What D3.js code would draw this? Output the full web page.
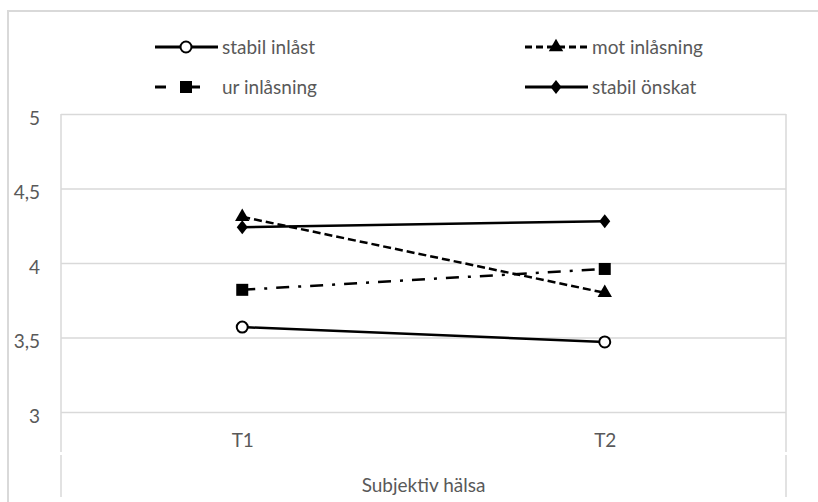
<!DOCTYPE html>
<html>
<head>
<meta charset="utf-8">
<script src="https://cdn.jsdelivr.net/npm/d3@7"></script>
<style>
  body { margin: 0; background: #fff; }
  text { font-family: Lato, "Open Sans", sans-serif; fill: #595959; }
</style>
</head>
<body>
<svg id="chart" width="818" height="502"></svg>
<script>
const categories = ["T1", "T2"]
const yTicks = [3, 3.5, 4, 4.5, 5]
const stabilInlast = [3.57, 3.47]
const motInlasning = [4.31, 3.80]
const urInlasning = [3.82, 3.96]
const stabilOnskat = [4.24, 4.28]
const xTitle = "Subjektiv hälsa"

const series = [
    {name: "stabil inlåst", values: stabilInlast, dash: null, marker: "circle"},
    {name: "mot inlåsning", values: motInlasning, dash: "8,4", marker: "triangle"},
    {name: "ur inlåsning", values: urInlasning, dash: "13,9,3,9", marker: "square"},
    {name: "stabil önskat", values: stabilOnskat, dash: null, marker: "diamond"}
]

const svg = d3.select("#chart")
const plotLeft = 61, plotRight = 786, plotTop = 114, plotBottom = 412
const fontSize = 19

const x = d3.scalePoint().domain(categories).range([plotLeft, plotRight]).padding(0.5)
const y = d3.scaleLinear().domain([3, 5]).range([plotBottom, plotTop])

const sv = d3.formatLocale({decimal: ",", thousands: " ", grouping: [3], currency: ["", " kr"]})
const fmt = sv.format("~g")

// outer frame
svg.append("path")
    .attr("d", "M8,502 L8,11 L818,11")
    .attr("fill", "none")
    .attr("stroke", "#d9d9d9")
    .attr("stroke-width", 2)

// plot frame sides
;[plotLeft, plotRight].forEach(xx => {
    svg.append("line").attr("x1", xx).attr("x2", xx).attr("y1", plotTop).attr("y2", 452)
        .attr("stroke", "#d9d9d9").attr("stroke-width", 1.5)
    svg.append("line").attr("x1", xx).attr("x2", xx).attr("y1", 455).attr("y2", 497)
        .attr("stroke", "#d9d9d9").attr("stroke-width", 1.5)
})

// y axis with gridlines
const yAxis = svg.append("g")
    .attr("transform", "translate(" + plotLeft + ",0)")
    .call(d3.axisLeft(y).tickValues(yTicks).tickFormat(fmt).tickSize(-(plotRight - plotLeft)).tickPadding(21))
yAxis.select(".domain").remove()
yAxis.selectAll(".tick line").attr("stroke", "#d9d9d9").attr("stroke-width", 1.5)
yAxis.selectAll(".tick text")
    .attr("font-size", fontSize)
    .attr("dy", "0.55em")
    .style("font-family", "Lato, sans-serif")
    .attr("fill", "#595959")

// x axis labels
const xAxis = svg.append("g")
    .attr("transform", "translate(0," + plotBottom + ")")
    .call(d3.axisBottom(x).tickSize(0).tickPadding(22))
xAxis.select(".domain").remove()
xAxis.selectAll(".tick text")
    .attr("font-size", fontSize)
    .style("font-family", "Lato, sans-serif")
    .attr("fill", "#595959")

svg.append("text")
    .attr("x", (plotLeft + plotRight) / 2)
    .attr("y", 492)
    .attr("text-anchor", "middle")
    .attr("font-size", fontSize)
    .text(xTitle)

function drawMarker(g, type, cx, cy) {
    if (type === "circle") {
        g.append("circle").attr("cx", cx).attr("cy", cy).attr("r", 5.5)
            .attr("fill", "#fff").attr("stroke", "#000").attr("stroke-width", 2)
    } else if (type === "triangle") {
        g.append("path").attr("d", d3.symbol(d3.symbolTriangle, 90)())
            .attr("transform", "translate(" + cx + "," + cy + ")")
            .attr("fill", "#000")
    } else if (type === "square") {
        g.append("rect").attr("x", cx - 6).attr("y", cy - 6).attr("width", 12).attr("height", 12)
            .attr("fill", "#000")
    } else if (type === "diamond") {
        g.append("path").attr("d", "M0,-7 L5.5,0 L0,7 L-5.5,0 Z")
            .attr("transform", "translate(" + cx + "," + cy + ")")
            .attr("fill", "#000")
    }
}

const line = d3.line()
    .x((d, i) => x(categories[i]))
    .y(d => y(d))

series.forEach(s => {
    const g = svg.append("g")
    g.append("path")
        .datum(s.values)
        .attr("d", line)
        .attr("fill", "none")
        .attr("stroke", "#000")
        .attr("stroke-width", 2.5)
        .attr("stroke-dasharray", s.dash)
    s.values.forEach((v, i) => drawMarker(g, s.marker, x(categories[i]), y(v)))
})

// legend
const legendPos = [
    {x: 155, y: 47}, {x: 525, y: 47}, {x: 155, y: 87}, {x: 525, y: 87}
]
series.forEach((s, i) => {
    const p = legendPos[i]
    const g = svg.append("g")
    if (s.marker === "square") {
        g.append("line").attr("x1", p.x).attr("x2", p.x + 11).attr("y1", p.y).attr("y2", p.y)
            .attr("stroke", "#000").attr("stroke-width", 3)
        g.append("line").attr("x1", p.x + 32).attr("x2", p.x + 45).attr("y1", p.y).attr("y2", p.y)
            .attr("stroke", "#000").attr("stroke-width", 3)
    } else {
        g.append("line").attr("x1", p.x).attr("x2", p.x + 63).attr("y1", p.y).attr("y2", p.y)
            .attr("stroke", "#000").attr("stroke-width", 3)
            .attr("stroke-dasharray", s.dash ? "7,4" : null)
    }
    drawMarker(g, s.marker, p.x + 31, p.y)
    g.append("text")
        .attr("x", p.x + 67)
        .attr("y", p.y)
        .attr("dy", "0.35em")
        .attr("font-size", fontSize)
        .text(s.name)
})
</script>
</body>
</html>
